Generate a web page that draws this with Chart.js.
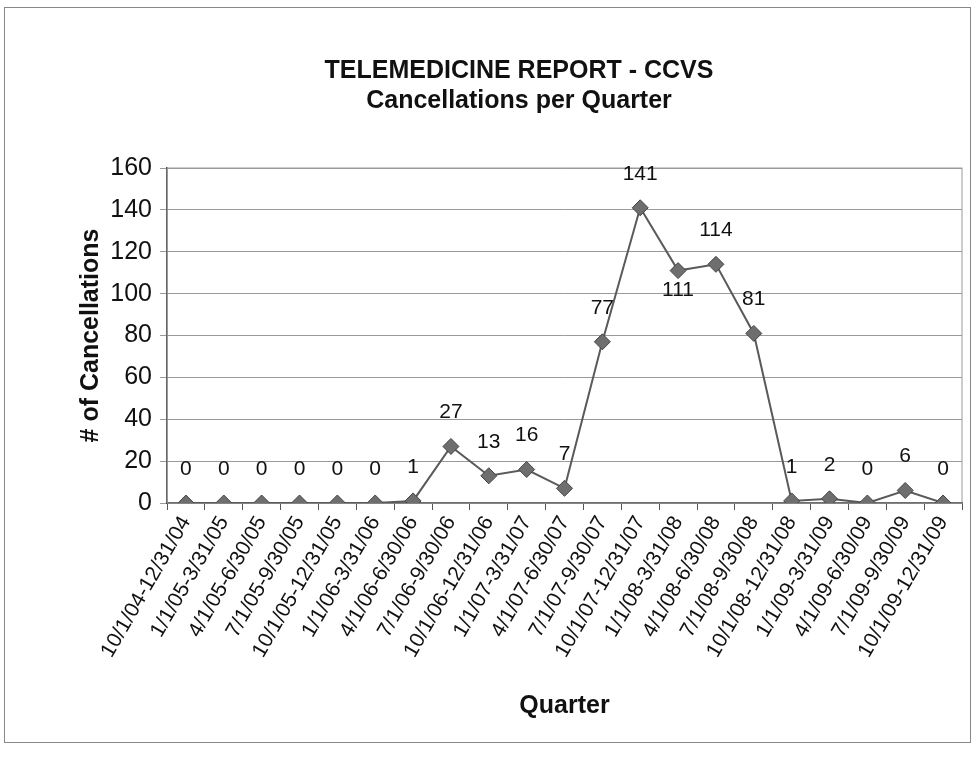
<!DOCTYPE html>
<html>
<head>
<meta charset="utf-8">
<script src="https://cdn.jsdelivr.net/npm/chart.js@4.4.1/dist/chart.umd.min.js"></script>
<style>
  html, body { margin: 0; padding: 0; background: #fff; }
  #wrap { position: relative; width: 978px; height: 757px; }
  #frame { position: absolute; left: 4px; top: 7px; width: 965px; height: 734px; border: 1px solid #888; }
  canvas { position: absolute; left: 0; top: 0; }
</style>
</head>
<body>
<div id="wrap">
  <div id="frame"></div>
  <canvas id="chart" width="978" height="757"></canvas>
</div>
<script>
const quarters = [
  "10/1/04-12/31/04", "1/1/05-3/31/05", "4/1/05-6/30/05", "7/1/05-9/30/05",
  "10/1/05-12/31/05", "1/1/06-3/31/06", "4/1/06-6/30/06", "7/1/06-9/30/06",
  "10/1/06-12/31/06", "1/1/07-3/31/07", "4/1/07-6/30/07", "7/1/07-9/30/07",
  "10/1/07-12/31/07", "1/1/08-3/31/08", "4/1/08-6/30/08", "7/1/08-9/30/08",
  "10/1/08-12/31/08", "1/1/09-3/31/09", "4/1/09-6/30/09", "7/1/09-9/30/09",
  "10/1/09-12/31/09"
];
const cancellations = [0, 0, 0, 0, 0, 0, 1, 27, 13, 16, 7, 77, 141, 111, 114, 81, 1, 2, 0, 6, 0];
const yTicks = [0, 20, 40, 60, 80, 100, 120, 140, 160];

// labels drawn under the point instead of above
const labelsBelow = [13];

const FONT = "'Liberation Sans', Arial, sans-serif";

// value labels + plot frame
const valueLabels = {
  id: "valueLabels",
  beforeDatasetsDraw(chart) {
    const { ctx, chartArea } = chart;
    ctx.save();
    ctx.strokeStyle = "#999";
    ctx.lineWidth = 1;
    ctx.strokeRect(chartArea.left, chartArea.top, chartArea.right - chartArea.left, chartArea.bottom - chartArea.top);
    ctx.restore();
  },
  afterDatasetsDraw(chart) {
    const { ctx } = chart;
    const meta = chart.getDatasetMeta(0);
    ctx.save();
    ctx.font = "21px " + FONT;
    ctx.fillStyle = "#111";
    ctx.textAlign = "center";
    ctx.textBaseline = "middle";
    meta.data.forEach((pt, i) => {
      const below = labelsBelow.includes(i);
      ctx.fillText(String(cancellations[i]), pt.x, below ? pt.y + 20 : pt.y - 34);
    });
    ctx.restore();
  }
};

new Chart(document.getElementById("chart"), {
  type: "line",
  data: {
    labels: quarters,
    datasets: [{
      data: cancellations,
      borderColor: "#5a5a5a",
      borderWidth: 2,
      pointStyle: "rectRot",
      pointRadius: 8,
      pointBackgroundColor: "#6e6e6e",
      pointBorderColor: "#444",
      pointBorderWidth: 1,
      tension: 0
    }]
  },
  options: {
    responsive: false,
    animation: false,
    layout: { padding: { left: 76, right: 16, top: 52, bottom: 26 } },
    plugins: {
      legend: { display: false },
      tooltip: { enabled: false },
      title: {
        display: true,
        text: "TELEMEDICINE REPORT - CCVS",
        color: "#111",
        font: { family: FONT, size: 25, weight: "bold" },
        padding: { top: 4, bottom: 0 }
      },
      subtitle: {
        display: true,
        text: "Cancellations per Quarter",
        color: "#111",
        font: { family: FONT, size: 25, weight: "bold" },
        padding: { top: 0, bottom: 52 }
      }
    },
    scales: {
      x: {
        offset: true,
        afterFit(scale) { scale.height = 757 - 26 - 503; },
        grid: { offset: true, drawOnChartArea: false, drawTicks: true, tickLength: 7, color: "#555" },
        border: { color: "#444", width: 1.5 },
        ticks: {
          autoSkip: false,
          minRotation: 60,
          maxRotation: 60,
          color: "#111",
          padding: 2,
          font: { family: FONT, size: 21 }
        },
        title: {
          display: true,
          text: "Quarter",
          color: "#111",
          font: { family: FONT, size: 25, weight: "bold" },
          padding: { top: 0, bottom: 10 }
        }
      },
      y: {
        min: yTicks[0],
        max: yTicks[yTicks.length - 1],
        afterFit(scale) { scale.width = 91; },
        afterBuildTicks(scale) { scale.ticks = yTicks.map(v => ({ value: v })); },
        grid: { color: "#9a9a9a", tickLength: 7 },
        border: { color: "#333", width: 1.5 },
        ticks: {
          color: "#111",
          padding: 8,
          font: { family: FONT, size: 25 }
        },
        title: {
          display: true,
          text: "# of Cancellations",
          color: "#111",
          font: { family: FONT, size: 25, weight: "bold" },
          padding: { top: 0, bottom: 4 }
        }
      }
    }
  },
  plugins: [valueLabels]
});
</script>
</body>
</html>
